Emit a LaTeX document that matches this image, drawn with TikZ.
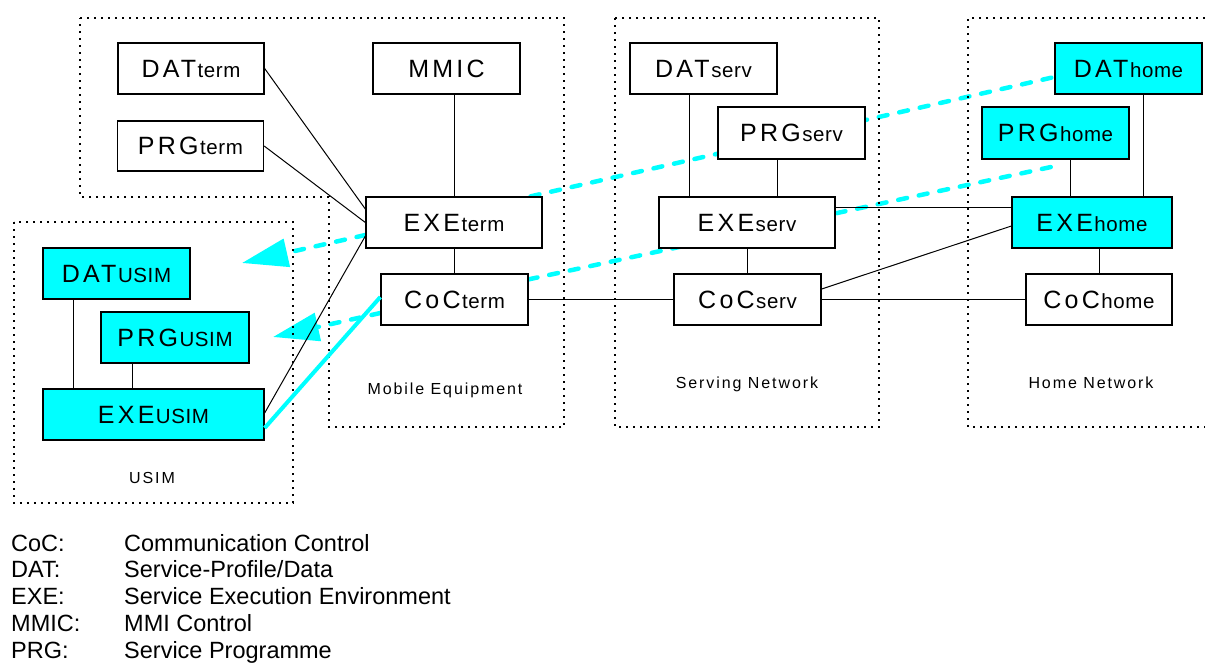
\documentclass[tikz,border=0pt]{standalone}
\usepackage{fontspec}
\setmainfont{Liberation Sans}
\newfontfamily\bigfont[LetterSpace=13]{Liberation Sans}
\newfontfamily\subfont[LetterSpace=3]{Liberation Sans}
\newfontfamily\lblfont[LetterSpace=12]{Liberation Sans}
\usetikzlibrary{arrows.meta,calc}
\pgfdeclarelayer{bg}
\pgfsetlayers{bg,main}
\definecolor{cy}{RGB}{0,255,255}
\newcommand\boxlbl[2]{{\fontsize{25}{25}\bigfont #1}\hspace{1.5pt}{\fontsize{20.5}{20.5}\subfont #2}}
\begin{document}
\begin{tikzpicture}[x=1pt,y=-1pt,
  box/.style={draw, line width=1.3pt, fill=white, minimum height=51pt, inner sep=0pt, anchor=center},
  cybox/.style={box, fill=cy},
  frame/.style={line width=1.6pt, dash pattern=on 1.6pt off 5.4pt},
  conn/.style={line width=1pt},
  cysolid/.style={cy, line width=4pt},
  cydash/.style={cy, line width=4.5pt, line cap=round, dash pattern=on 9pt off 12pt},
  cyarrow/.style={cydash, -{Triangle[length=46pt,width=28pt]}},
  lbl/.style={inner sep=0pt, anchor=base, font=\fontsize{16}{16}\lblfont},
  leg/.style={inner sep=0pt, anchor=base west, font=\fontsize{23.5}{23.5}\selectfont}]
\useasboundingbox (0,0) rectangle (1205,664);

% frames
\draw[frame] (80,18) -- (564,18) -- (564,427) -- (329,427) -- (329,197) -- (80,197) -- cycle;
\draw[frame] (615,18) rectangle (879,427);
\draw[frame] (1205,18) -- (968,18) -- (968,427) -- (1205,427);
\draw[frame] (14,222) rectangle (293,503);

\node[lbl] (meL) at (445,394) {Mobile Equipment};
\node[lbl] (snL) at (747,388) {Serving Network};
\node[lbl] (hnL) at (1091,388) {Home Network};
\node[lbl] (usL) at (152,483) {USIM};

% boxes
\node[box, minimum width=146pt] (DATterm) at (191,68.5) {\boxlbl{DAT}{term}};
\node[box, minimum width=146pt, minimum height=50pt] (PRGterm) at (190.5,146) {\boxlbl{PRG}{term}};
\node[box, minimum width=147pt] (MMIC) at (446.5,68.5) {{\fontsize{25}{25}\bigfont MMIC}};
\node[box, minimum width=176pt] (EXEterm) at (454,222.5) {\boxlbl{EXE}{term}};
\node[box, minimum width=147pt] (CoCterm) at (454.5,299.5) {\boxlbl{CoC}{term}};

\node[cybox, minimum width=147pt] (DATusim) at (116.5,273.5) {\boxlbl{DAT}{USIM}};
\node[cybox, minimum width=148pt] (PRGusim) at (175,337.5) {\boxlbl{PRG}{USIM}};
\node[cybox, minimum width=221pt] (EXEusim) at (153.5,414.5) {\boxlbl{EXE}{USIM}};

\node[box, minimum width=147pt] (DATserv) at (703.5,68.5) {\boxlbl{DAT}{serv}};
\node[box, minimum width=147pt, minimum height=52pt] (PRGserv) at (791.5,133) {\boxlbl{PRG}{serv}};
\node[box, minimum width=176pt] (EXEserv) at (747,222.5) {\boxlbl{EXE}{serv}};
\node[box, minimum width=147pt] (CoCserv) at (747.5,299.5) {\boxlbl{CoC}{serv}};

\node[cybox, minimum width=147pt] (DAThome) at (1128.5,68.5) {\boxlbl{DAT}{home}};
\node[cybox, minimum width=147pt, minimum height=52pt] (PRGhome) at (1055.5,133) {\boxlbl{PRG}{home}};
\node[cybox, minimum width=160pt] (EXEhome) at (1092,222.5) {\boxlbl{EXE}{home}};
\node[box, minimum width=146pt] (CoChome) at (1099,299.5) {\boxlbl{CoC}{home}};

\coordinate (tipA) at (242,263);
\coordinate (tipB) at (273,337);
\coordinate (endB) at (1051,167);

\begin{pgfonlayer}{bg}
\draw[cydash] ([xshift=-12pt]EXEterm.north east) -- ([yshift=-8.5pt]DAThome.west);
\draw[cydash] ([yshift=-6pt]CoCterm.north east) -- (endB);
\draw[cyarrow] ([yshift=-12.5pt]EXEterm.west) -- (tipA);
\draw[cyarrow] ([yshift=-13.5pt]CoCterm.west) -- (tipB);
\end{pgfonlayer}

% connectors
\draw[conn] (DATterm.east) -- ([yshift=13.5pt]EXEterm.west);
\draw[conn] (PRGterm.east) -- (EXEterm.west);
\draw[conn] ([yshift=1.5pt]EXEusim.east) -- ([yshift=-13.5pt]EXEterm.west);
\draw[cysolid] ([yshift=-13.5pt]EXEusim.east) -- ([yshift=2.5pt]CoCterm.west);
\draw[conn] (MMIC.south -| EXEterm.north) -- (EXEterm.north);
\draw[conn] (EXEterm.south) -- (CoCterm.north -| EXEterm.south);
\draw[conn] (CoCterm.east) -- (CoCserv.west);
\draw[conn] (CoCserv.east) -- (CoChome.west);
\draw[conn] ([yshift=10.5pt]CoCserv.east) -- ([yshift=-3.5pt]EXEhome.west);
\draw[conn] ([yshift=15.5pt]EXEserv.east) -- ([yshift=15.5pt]EXEhome.west);
\draw[conn] (DATusim.south -| 73,0) -- (EXEusim.north -| 73,0);
\draw[conn] (PRGusim.south -| 132,0) -- (EXEusim.north -| 132,0);
\draw[conn] (DATserv.south -| 689,0) -- (EXEserv.north -| 689,0);
\draw[conn] (PRGserv.south -| 777,0) -- (EXEserv.north -| 777,0);
\draw[conn] (EXEserv.south) -- (CoCserv.north -| EXEserv.south);
\draw[conn] (PRGhome.south -| 1070,0) -- (EXEhome.north -| 1070,0);
\draw[conn] (DAThome.south -| 1143,0) -- (EXEhome.north -| 1143,0);
\draw[conn] (CoChome.north) -- (EXEhome.south -| CoChome.north);

% legend
\node[leg] (k1) at (11,551) {CoC:};
\node[leg] (v1) at (124,551) {Communication Control};
\node[leg] (k2) at (11,577.75) {DAT:};
\node[leg] (v2) at (124,577.75) {Service-Profile/Data};
\node[leg] (k3) at (11,604.5) {EXE:};
\node[leg] (v3) at (124,604.5) {Service Execution Environment};
\node[leg] (k4) at (11,631.25) {MMIC:};
\node[leg] (v4) at (124,631.25) {MMI Control};
\node[leg] (k5) at (11,658) {PRG:};
\node[leg] (v5) at (124,658) {Service Programme};
\end{tikzpicture}
\end{document}
